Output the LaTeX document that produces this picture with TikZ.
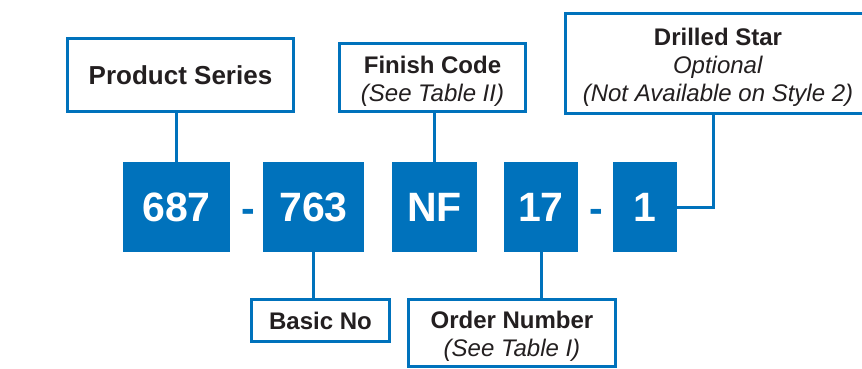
\documentclass[tikz,border=0pt]{standalone}
\usepackage{fontspec}
\setmainfont{Liberation Sans}
\usepackage{tikz}
\usetikzlibrary{positioning}
\definecolor{codeblue}{HTML}{0072BC}
\definecolor{textdark}{HTML}{231F20}
\newcommand{\labelstrut}{\rule{0pt}{24pt}}

\begin{document}
\begin{tikzpicture}[x=1pt, y=-1pt,
  codebox/.style={rectangle, fill=codeblue, text=white, inner sep=0pt, minimum height=90pt, font=\fontsize{41}{48}\selectfont\bfseries},
  sepdash/.style={text=codeblue, inner sep=0pt, anchor=base, font=\fontsize{41}{48}\selectfont\bfseries},
  infobox/.style={rectangle, draw=codeblue, line width=3pt, fill=white, text=textdark, align=center, inner sep=0pt, font=\fontsize{24}{28}\selectfont},
  link/.style={draw=codeblue, line width=3pt},
]

% page frame
\clip (0,0) rectangle (862,369);

% --- Catalogue code: 687 - 763 NF 17 - 1 ---
\node[codebox, minimum width=107pt] (c687) at (176.5,207) {687};
\node[sepdash] (dashA) at (248,222) {-};
\node[codebox, minimum width=101pt] (c763) at (313.5,207) {763};
\node[codebox, minimum width=85pt] (cNF) at (434.5,207) {NF};
\node[codebox, minimum width=74pt] (c17) at (541,207) {17};
\node[sepdash] (dashB) at (596.5,222) {-};
\node[codebox, minimum width=64pt] (c1) at (645,207) {1};

% --- Upper labels ---
\node[infobox, font=\fontsize{26}{30}\selectfont, minimum width=226pt, minimum height=73pt] (series) at (180.5,75) {\textbf{Product Series}};
\node[infobox, minimum width=186pt, minimum height=68pt] (finish) at (432.5,77.5) {\labelstrut\textbf{Finish Code}\\\textit{(See Table II)}};
\node[infobox, minimum width=305pt, minimum height=100pt] (star) at (718,63.5) {\labelstrut\textbf{Drilled Star}\\\textit{Optional}\\\textit{(Not Available on Style 2)}};

% --- Lower labels ---
\node[infobox, minimum width=138pt, minimum height=42pt] (basic) at (320.5,320.5) {\textbf{Basic No}};
\node[infobox, minimum width=207pt, minimum height=67pt] (order) at (512,333) {\labelstrut\textbf{Order Number}\\\textit{(See Table I)}};

% --- Connectors ---
\draw[link] (series.south -| c687) -- (c687.north);
\draw[link] (finish.south -| cNF) -- (cNF.north);
\draw[link] (c763.south) -- (basic.north -| c763);
\draw[link] (c17.south) -- (order.north -| c17);
\draw[link] (c1.east) -| ([xshift=-5pt]star.south);

\end{tikzpicture}
\end{document}
